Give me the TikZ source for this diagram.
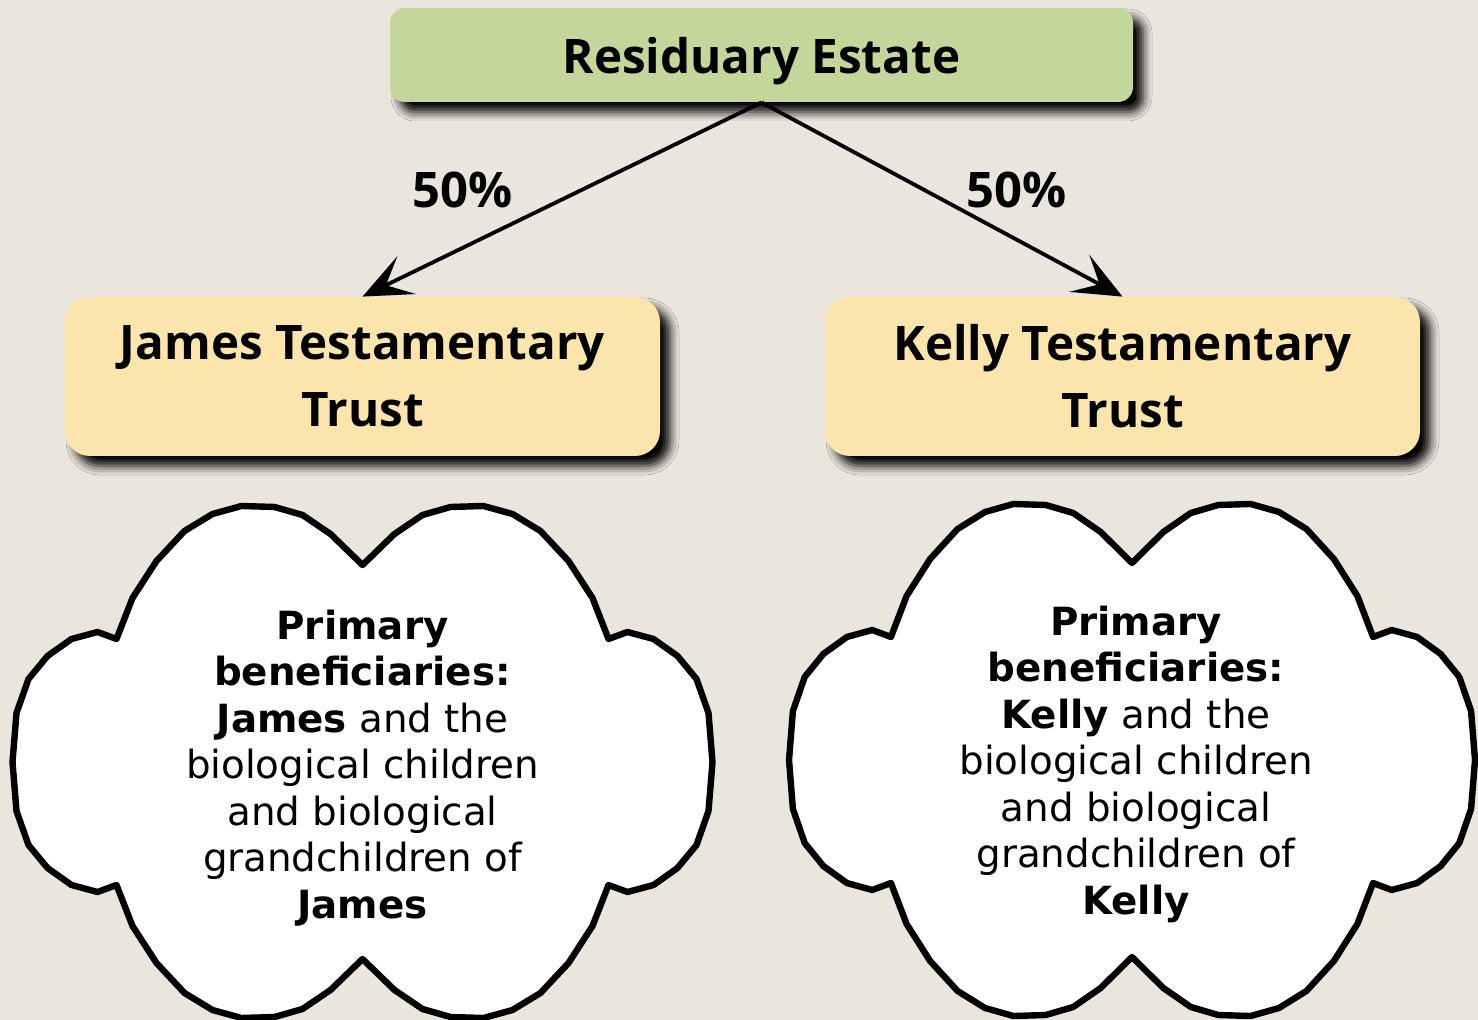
\documentclass[tikz,border=0pt]{standalone}
\usepackage{fontspec}
\setmainfont{DejaVu Sans}
\newfontfamily\boxfont{Open Sans}
\usetikzlibrary{arrows.meta,shadows.blur}

\definecolor{bgcream}{RGB}{234,229,221}
\definecolor{estategreen}{RGB}{196,215,155}
\definecolor{trustyellow}{RGB}{252,229,172}

\begin{document}
\begin{tikzpicture}[x=0.5pt, y=-0.5pt,
    boxtext/.style={font=\boxfont\bfseries\fontsize{23.8}{33.5}\selectfont, align=center},
    boxshadow/.style={blur shadow={shadow xshift=5pt, shadow yshift=-5pt,
        shadow blur radius=4.5pt, shadow opacity=100}},
    estatebox/.style={boxtext, boxshadow, fill=estategreen, rounded corners=7.5pt,
        minimum width=371.5pt, minimum height=47pt, inner sep=0pt, text depth=0pt},
    trustbox/.style={boxtext, boxshadow, fill=trustyellow, rounded corners=12.5pt,
        minimum width=297.5pt, minimum height=79.5pt, inner sep=0pt},
    share/.style={line width=1.9pt, -{Stealth[length=24.5pt, width=21pt, inset=11.5pt]}},
    pct/.style={boxtext, font=\boxfont\bfseries\fontsize{24.5}{30}\selectfont},
    cloudtext/.style={align=center, font=\fontsize{19.4}{23.25}\selectfont},
    pics/cloud/.style={code={
      \draw[line width=3.2pt, line join=round, fill=white]
        (0,-197) -- (-32,-228) -- (-60,-247) -- (-88,-255) -- (-121,-256) -- (-150,-248)
        -- (-178,-231) -- (-206,-201) -- (-230,-164) -- (-246,-123) -- (-265,-130)
        -- (-291,-123) -- (-315,-106) -- (-334,-83) -- (-346,-49) -- (-350,0)
        -- (-346,49) -- (-334,83) -- (-315,106) -- (-291,123) -- (-265,130) -- (-246,123)
        -- (-230,164) -- (-206,201) -- (-178,231) -- (-150,248) -- (-121,256) -- (-88,255)
        -- (-60,247) -- (-32,228) -- (0,197)
        -- (32,228) -- (60,247) -- (88,255) -- (121,256) -- (150,248) -- (178,231)
        -- (206,201) -- (230,164) -- (246,123) -- (265,130) -- (291,123) -- (315,106)
        -- (334,83) -- (346,49) -- (350,0) -- (346,-49) -- (334,-83) -- (315,-106)
        -- (291,-123) -- (265,-130) -- (246,-123) -- (230,-164) -- (206,-201)
        -- (178,-231) -- (150,-248) -- (121,-256) -- (88,-255) -- (60,-247) -- (32,-228)
        -- cycle;
    }}]
\fill[bgcream] (0,0) rectangle (1478,1020);
\useasboundingbox (0,0) rectangle (1478,1020);

\node[estatebox] (estate) at (761.5,55) {Residuary Estate};
\node[trustbox] (jamestrust) at (362.5,376.5) {James Testamentary\\Trust};
\node[trustbox] (kellytrust) at (1122.5,376.5) {Kelly Testamentary\\Trust};

\draw[share] (estate.south) -- (jamestrust.north);
\draw[share] (estate.south) -- (kellytrust.north);
\node[pct] (jamespct) at (463,190) {50\%};
\node[pct] (kellypct) at (1017,190) {50\%};

% beneficiary clouds
\pic at (362.5,762) {cloud};
\pic[xscale=0.98] at (1132,760) {cloud};
\node[cloudtext] (jamesben) at (362.5,768) {\textbf{Primary}\\\textbf{beneficiaries:}\\
  \textbf{James} and the\\biological children\\and biological\\grandchildren of\\\textbf{James}};
\node[cloudtext] (kellyben) at (1136,764) {\textbf{Primary}\\\textbf{beneficiaries:}\\
  \textbf{Kelly} and the\\biological children\\and biological\\grandchildren of\\\textbf{Kelly}};
\end{tikzpicture}
\end{document}
